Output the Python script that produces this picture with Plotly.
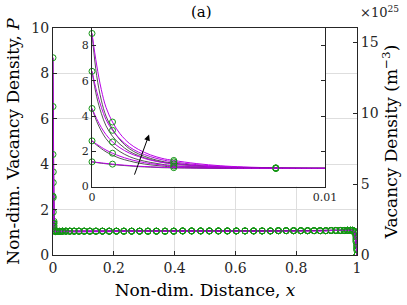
import plotly.graph_objects as go

# ---------------- data ----------------
# mesh node positions (markers), non-dimensional distance
x_mesh = [0.0, 0.00088, 0.00351, 0.00789, 0.01399, 0.02180, 0.03129, 0.04243,
          0.05517, 0.06948, 0.08530, 0.10257, 0.12124, 0.14125, 0.16251, 0.18496,
          0.20852, 0.23311, 0.25864, 0.28504, 0.31220, 0.34003, 0.36844, 0.39732,
          0.42657, 0.45610, 0.48580, 0.51420, 0.54390, 0.57343, 0.60268, 0.63156,
          0.65997, 0.68780, 0.71496, 0.74136, 0.76689, 0.79148, 0.81504, 0.83749,
          0.85875, 0.87876, 0.89743, 0.91470, 0.93052, 0.94483, 0.95757, 0.96871,
          0.97820, 0.98601, 0.99211, 0.99649, 0.99912, 1.0]

# values at the first four nodes, one list per curve
P_left = [
    [8.69, 3.66, 1.48, 1.06],
    [6.54, 3.19, 1.40, 1.05],
    [4.43, 2.53, 1.28, 1.04],
    [2.59, 1.89, 1.16, 1.03],
    [1.40, 1.27, 1.07, 1.03],
]
# shared bulk values (nodes 4 .. 49)
P_bulk = [1.04, 1.04, 1.05, 1.05, 1.05, 1.05,
          1.05, 1.05, 1.05, 1.05, 1.05, 1.05, 1.05, 1.05, 1.05, 1.05,
          1.05, 1.05, 1.05, 1.05, 1.06, 1.06, 1.06, 1.06, 1.06, 1.06,
          1.06, 1.06, 1.06, 1.06, 1.06, 1.07, 1.07, 1.07, 1.07, 1.07,
          1.07, 1.07, 1.07, 1.08, 1.08, 1.08, 1.08, 1.09, 1.09, 1.09]
# values at the last four nodes (sink at x = 1)
P_right = [
    [1.05, 0.85, 0.45, 0.0],
    [1.04, 0.80, 0.40, 0.0],
    [1.02, 0.72, 0.33, 0.0],
    [1.00, 0.65, 0.27, 0.0],
    [0.97, 0.58, 0.22, 0.0],
]

# fine profiles near x = 0 (inset)
x_fine = [0.0, 0.0002, 0.0004, 0.0006, 0.00088, 0.0012, 0.0016, 0.002, 0.0025,
          0.003, 0.0035, 0.0045, 0.0055, 0.0065, 0.0079, 0.009, 0.01]
P_purple = [
    [8.69, 6.90, 5.50, 4.50, 3.66, 3.00, 2.45, 2.10, 1.80, 1.60, 1.48, 1.30, 1.18, 1.11, 1.06, 1.04, 1.03],
    [6.54, 5.40, 4.50, 3.80, 3.19, 2.70, 2.25, 1.95, 1.70, 1.52, 1.40, 1.24, 1.15, 1.09, 1.05, 1.04, 1.03],
    [4.43, 3.85, 3.35, 2.95, 2.53, 2.20, 1.90, 1.70, 1.50, 1.37, 1.28, 1.17, 1.10, 1.07, 1.04, 1.03, 1.03],
    [2.59, 2.40, 2.23, 2.07, 1.89, 1.72, 1.55, 1.42, 1.30, 1.22, 1.16, 1.10, 1.06, 1.04, 1.03, 1.03, 1.03],
    [1.40, 1.37, 1.34, 1.31, 1.27, 1.23, 1.19, 1.15, 1.12, 1.09, 1.07, 1.05, 1.04, 1.03, 1.03, 1.03, 1.03],
]
P_black = [
    [8.69, 6.30, 4.90, 4.00, 3.25, 2.65, 2.15, 1.85, 1.60, 1.43, 1.33, 1.20, 1.12, 1.08, 1.04, 1.03, 1.03],
    [6.54, 5.10, 4.15, 3.45, 2.85, 2.40, 2.00, 1.75, 1.53, 1.38, 1.29, 1.16, 1.09, 1.06, 1.04, 1.03, 1.03],
    [4.43, 3.70, 3.15, 2.72, 2.30, 1.98, 1.70, 1.52, 1.37, 1.26, 1.19, 1.11, 1.07, 1.05, 1.03, 1.03, 1.03],
    [2.59, 2.35, 2.15, 1.97, 1.78, 1.60, 1.45, 1.33, 1.23, 1.16, 1.11, 1.07, 1.04, 1.03, 1.03, 1.03, 1.03],
    [1.40, 1.36, 1.32, 1.29, 1.25, 1.21, 1.17, 1.13, 1.10, 1.07, 1.06, 1.04, 1.03, 1.03, 1.03, 1.03, 1.03],
]

P_ref = 1.6  # x 10^25 m^-3 per unit P

x_ticks_main = [0, 0.2, 0.4, 0.6, 0.8, 1]
x_ticklabels_main = ["0", "0.2", "0.4", "0.6", "0.8", "1"]
y_ticks_main = [0, 2, 4, 6, 8, 10]
y2_ticks = [0, 5, 10, 15]
x_ticks_inset = [0, 0.01]
x_ticklabels_inset = ["0", "0.01"]
y_ticks_inset = [0, 2, 4, 6, 8]

# ---------------- styles ----------------
PURPLE = "rgb(185,0,230)"
GREEN = "rgb(20,150,20)"
BLACK = "rgb(40,40,40)"
AX = "#262626"
GRID = "rgb(222,222,222)"
FONT = "DejaVu Serif"

fig = go.Figure()

n_mesh_in = len(P_left[0])
for k in range(len(P_left)):
    xm_line = x_fine + x_mesh[n_mesh_in:]
    ym_purple = P_purple[k] + P_bulk + P_right[k]
    ym_black = P_black[k] + P_bulk + P_right[k]
    ym_mark = P_left[k] + P_bulk + P_right[k]
    fig.add_trace(go.Scatter(x=xm_line, y=ym_black, mode="lines",
                             line=dict(color=BLACK, width=0.8),
                             xaxis="x", yaxis="y", showlegend=False, hoverinfo="skip"))
    fig.add_trace(go.Scatter(x=xm_line, y=ym_purple, mode="lines",
                             line=dict(color=PURPLE, width=1.1),
                             xaxis="x", yaxis="y", showlegend=False, hoverinfo="skip"))
    fig.add_trace(go.Scatter(x=x_mesh, y=ym_mark, mode="markers",
                             marker=dict(symbol="circle-open", size=6, color=GREEN,
                                         line=dict(width=1, color=GREEN)),
                             xaxis="x", yaxis="y", showlegend=False, hoverinfo="skip"))

# dimensional axis carrier (invisible)
fig.add_trace(go.Scatter(x=x_mesh, y=[p * P_ref for p in P_left[0] + P_bulk + P_right[0]],
                         mode="lines", opacity=0, xaxis="x", yaxis="y2",
                         showlegend=False, hoverinfo="skip"))

# inset
for k in range(len(P_left)):
    fig.add_trace(go.Scatter(x=x_fine, y=P_black[k], mode="lines",
                             line=dict(color=BLACK, width=0.8, shape="spline"),
                             xaxis="x2", yaxis="y3", showlegend=False, hoverinfo="skip"))
    fig.add_trace(go.Scatter(x=x_fine, y=P_purple[k], mode="lines",
                             line=dict(color=PURPLE, width=1.0, shape="spline"),
                             xaxis="x2", yaxis="y3", showlegend=False, hoverinfo="skip"))
    fig.add_trace(go.Scatter(x=x_mesh[:n_mesh_in], y=P_left[k], mode="markers",
                             marker=dict(symbol="circle-open", size=6, color=GREEN,
                                         line=dict(width=1, color=GREEN)),
                             cliponaxis=False,
                             xaxis="x2", yaxis="y3", showlegend=False, hoverinfo="skip"))

W, H = 407, 305
L, R, T, B = 53, 357, 28, 255
IL, IR, IT, IB = 92, 325, 28, 186.5

axis_common = dict(showline=True, linecolor=AX, linewidth=1, ticks="inside",
                   tickcolor=AX, ticklen=4, tickwidth=1, zeroline=False,
                   automargin=False, tickfont=dict(family=FONT, size=14, color=AX))
inset_font = dict(family=FONT, size=11, color=AX)
title_font = dict(family=FONT, size=17, color="black")

fig.update_layout(
    width=W, height=H,
    margin=dict(l=0, r=0, t=0, b=0, autoexpand=False),
    paper_bgcolor="white", plot_bgcolor="white",
    font=dict(family=FONT, color="black"),
    xaxis=dict(domain=[L / W, R / W], range=[0, 1], tickvals=x_ticks_main,
               ticktext=x_ticklabels_main, mirror="ticks", showgrid=True,
               gridcolor=GRID, gridwidth=1, anchor="y",
               title=dict(text="Non-dim. Distance, <i>x</i>", standoff=9, font=title_font),
               **axis_common),
    yaxis=dict(domain=[(H - B) / H, (H - T) / H], range=[0, 10], tickvals=y_ticks_main,
               showgrid=True, gridcolor=GRID, gridwidth=1, anchor="x",
               title=dict(text="Non-dim. Vacancy Density, <i>P</i>", standoff=7,
                          font=title_font),
               **axis_common),
    yaxis2=dict(overlaying="y", side="right", range=[0, 16], tickvals=y2_ticks,
                showgrid=False, anchor="x",
                title=dict(text="Vacancy Density (m<sup>−3</sup>)", standoff=6,
                           font=title_font),
                **axis_common),
    xaxis2=dict(domain=[IL / W, IR / W], range=[0, 0.01], tickvals=x_ticks_inset,
                ticktext=x_ticklabels_inset, mirror="ticks", showgrid=False, anchor="y3",
                **{**axis_common, "tickfont": inset_font}),
    yaxis3=dict(domain=[(H - IB) / H, (H - IT) / H], range=[0, 9], tickvals=y_ticks_inset,
                mirror="ticks", showgrid=False, anchor="x2",
                **{**axis_common, "tickfont": inset_font}),
    annotations=[
        dict(text="(a)", x=201 / W, y=(H - 12) / H, xref="paper", yref="paper",
             showarrow=False, font=dict(family=FONT, size=15, color="black"),
             xanchor="center", yanchor="middle"),
        dict(text="×10<sup>25</sup>", x=379 / W, y=(H - 12) / H, xref="paper", yref="paper",
             showarrow=False, font=dict(family=FONT, size=13, color=AX),
             xanchor="center", yanchor="middle"),
        dict(text="", x=0.00245, y=2.95, ax=0.0018, ay=0.59, xref="x2", yref="y3",
             axref="x2", ayref="y3", showarrow=True, arrowhead=2, arrowsize=1.2,
             arrowwidth=1, arrowcolor="black"),
    ],
)

fig.write_html("out.html", config={"displayModeBar": False},
               post_script="document.body.style.margin='0px';document.body.style.padding='0px';")
